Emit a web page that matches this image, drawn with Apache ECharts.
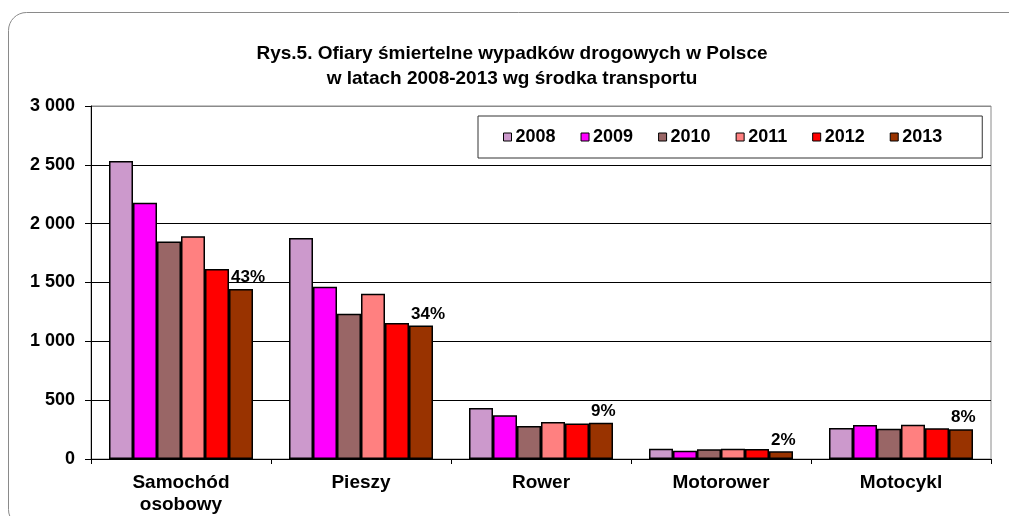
<!DOCTYPE html>
<html>
<head>
<meta charset="utf-8">
<script src="https://cdn.jsdelivr.net/npm/echarts@6/dist/echarts.min.js"></script>
<style>
html,body{margin:0;padding:0;background:#fff;}
#chart{width:1009px;height:516px;}
</style>
</head>
<body>
<div id="chart"></div>
<script>
const categories = ['Samochód\nosobowy', 'Pieszy', 'Rower', 'Motorower', 'Motocykl'];
const years = ['2008', '2009', '2010', '2011', '2012', '2013'];
const v2008 = [2532, 1878, 434, 88, 264];
const v2009 = [2178, 1464, 372, 71, 289];
const v2010 = [1849, 1234, 281, 83, 258];
const v2011 = [1892, 1405, 315, 88, 292];
const v2012 = [1614, 1155, 301, 85, 261];
const v2013 = [1444, 1135, 309, 65, 253];
const share2013 = ['43%', '34%', '9%', '2%', '8%'];
const yTicks = [0, 500, 1000, 1500, 2000, 2500, 3000];

const seriesValues = [v2008, v2009, v2010, v2011, v2012, v2013];
const colors = ['#CC99CC', '#FF00FF', '#996666', '#FF8080', '#FF0000', '#993300'];
const FONT = '"Liberation Sans", Arial, sans-serif';

const chart = echarts.init(document.getElementById('chart'));

const series = years.map((y, i) => {
  const s = {
    name: y,
    type: 'bar',
    data: seriesValues[i],
    barGap: '0%',
    barCategoryGap: '20%',
    itemStyle: { color: colors[i], borderColor: '#000', borderWidth: 1.5 },
    emphasis: { disabled: true },
    animation: false
  };
  if (i === years.length - 1) {
    s.label = {
      show: true,
      position: [2, -3],
      align: 'left',
      verticalAlign: 'bottom',
      formatter: p => share2013[p.dataIndex],
      color: '#000',
      fontWeight: 'bold',
      fontSize: 17,
      fontFamily: FONT
    };
  }
  return s;
});

chart.setOption({
  backgroundColor: '#fff',
  animation: false,
  graphic: [{
    type: 'rect',
    shape: { x: 8.5, y: 12.5, width: 1040, height: 515, r: 18 },
    style: { fill: 'none', stroke: '#8a8a8a', lineWidth: 1 },
    silent: true,
    z: -1
  }],
  title: {
    text: 'Rys.5. Ofiary śmiertelne wypadków drogowych w Polsce\nw latach 2008-2013 wg środka transportu',
    left: 507,
    top: 36,
    textAlign: 'center',
    textStyle: { fontFamily: FONT, fontWeight: 'bold', fontSize: 19, lineHeight: 25, color: '#000' }
  },
  legend: {
    data: years,
    left: 478,
    top: 116,
    orient: 'horizontal',
    itemWidth: 8,
    itemHeight: 8,
    itemGap: 25,
    icon: 'rect',
    padding: [12, 40, 12, 25],
    backgroundColor: '#fff',
    borderColor: '#333',
    borderWidth: 1,
    borderRadius: 0,
    textStyle: { fontFamily: FONT, fontWeight: 'bold', fontSize: 18, color: '#000', padding: [0, 0, 0, -1] },
    itemStyle: { borderColor: '#000', borderWidth: 1 },
    selectedMode: false,
    z: 10
  },
  grid: {
    left: 91, right: 18, top: 106, bottom: 57,
    show: true, borderColor: '#8a8a8a', borderWidth: 1, backgroundColor: 'transparent'
  },
  xAxis: {
    type: 'category',
    data: categories,
    axisLine: { lineStyle: { color: '#000', width: 1 } },
    axisTick: { show: true, inside: false, length: 5, lineStyle: { color: '#000' } },
    axisLabel: { fontFamily: FONT, fontWeight: 'bold', fontSize: 19, color: '#000', lineHeight: 22, margin: 13, interval: 0 }
  },
  yAxis: {
    type: 'value',
    min: yTicks[0],
    max: yTicks[yTicks.length - 1],
    interval: yTicks[1] - yTicks[0],
    axisLine: { show: true, lineStyle: { color: '#000', width: 1 } },
    axisTick: { show: true, inside: false, length: 6, lineStyle: { color: '#000' } },
    splitLine: { show: true, lineStyle: { color: ['#000', '#000', '#000', '#000', '#000', '#000', '#8a8a8a'], width: 1 } },
    axisLabel: {
      fontFamily: FONT, fontWeight: 'bold', fontSize: 18, color: '#000', margin: 16,
      formatter: v => String(v).replace(/\B(?=(\d{3})+(?!\d))/g, ' ')
    }
  },
  series: series
});
</script>
</body>
</html>
